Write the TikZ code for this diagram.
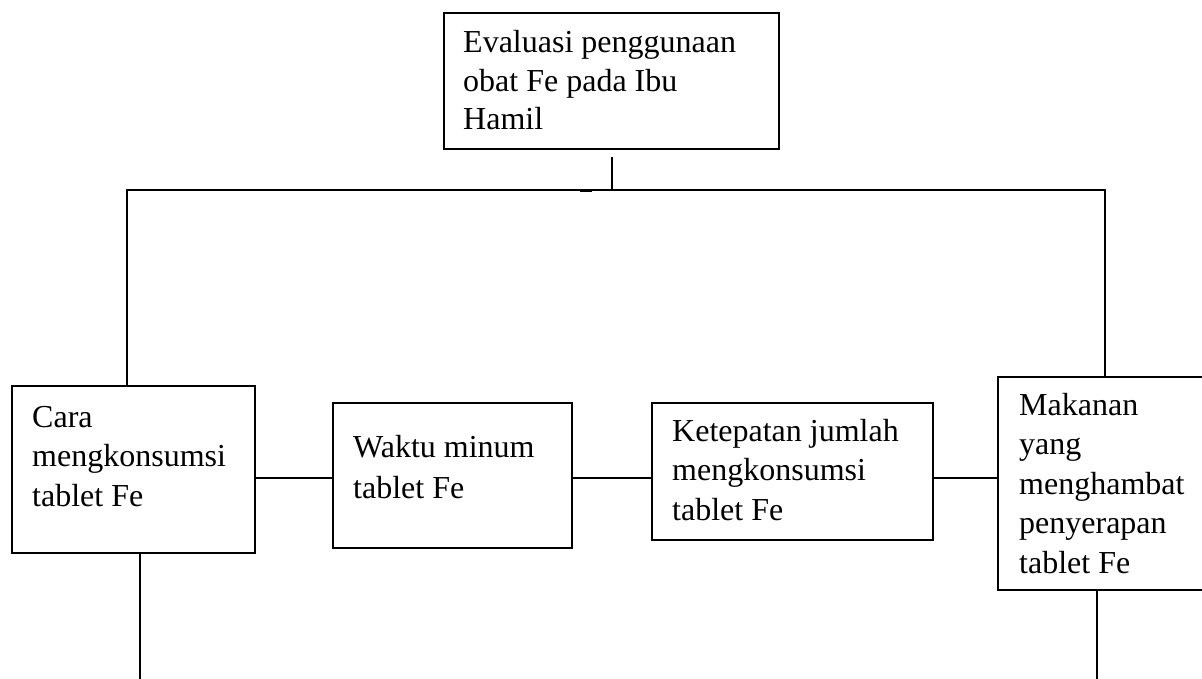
\documentclass[tikz,border=0pt]{standalone}
\usepackage{fontspec}
\setmainfont{Liberation Serif}
\usetikzlibrary{calc}
\begin{document}
\begin{tikzpicture}[x=1pt,y=-1pt,
  box/.style={draw, line width=1.9pt, rectangle, inner sep=0pt, anchor=north west},
  txt/.style={anchor=base west, inner sep=0pt, align=left, font=\fontsize{32}{39.5}\selectfont},
  conn/.style={line width=1.9pt}]
\useasboundingbox (0,0) rectangle (1202,679);
% boxes
\node[box, minimum width=335pt, minimum height=136pt] (top) at (443,12) {};
\node[box, minimum width=243pt, minimum height=167pt] (cara) at (11,385) {};
\node[box, minimum width=239pt, minimum height=145pt] (waktu) at (332,402) {};
\node[box, minimum width=281pt, minimum height=137pt] (ket) at (651,402) {};
\node[box, minimum width=212pt, minimum height=213pt] (mak) at (997,376) {};
% texts (anchored at the baseline of their last line)
\node[txt, font=\fontsize{32}{38.5}\selectfont] (topt) at (463,130) {Evaluasi penggunaan\\obat Fe pada Ibu\\Hamil};
\node[txt] (carat) at (32,506) {Cara\\mengkonsumsi\\tablet Fe};
\node[txt, font=\fontsize{32}{41}\selectfont] (waktut) at (353,498) {Waktu minum\\tablet Fe};
\node[txt] (kett) at (672,520) {Ketepatan jumlah\\mengkonsumsi\\tablet Fe};
\node[txt] (makt) at (1019,573) {Makanan\\yang\\menghambat\\penyerapan\\tablet Fe};
% junction coordinates
\coordinate (j) at (612,190);
\coordinate (jl) at (127,190);
\coordinate (jr) at (1105,190);
\coordinate (r) at (0,478);
\coordinate (bl) at (140,685);
\coordinate (br) at (1097,685);
% connectors
\draw[conn] ([yshift=-7pt]top.south -| j) -- (j);
\draw[conn] (jl |- cara.north) -- (jl) -- (jr) -- (jr |- mak.north);
\draw[line width=2.8pt] (580,191) -- (592,191);
\draw[conn] (cara.east |- r) -- (waktu.west |- r);
\draw[conn] (waktu.east |- r) -- (ket.west |- r);
\draw[conn] (ket.east |- r) -- (mak.west |- r);
\draw[conn] (cara.south -| bl) -- (bl);
\draw[conn] (mak.south -| br) -- (br);
\end{tikzpicture}
\end{document}
